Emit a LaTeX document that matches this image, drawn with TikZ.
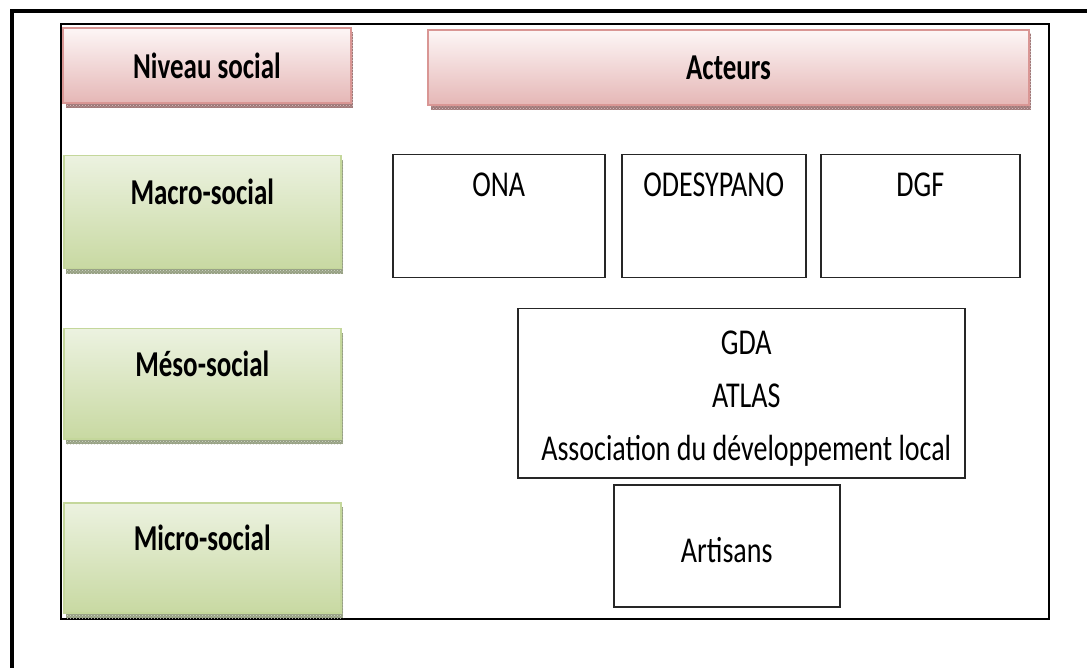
\documentclass[tikz,border=0pt]{standalone}
\usepackage{fontspec}
\setmainfont{Carlito}
\usepackage{tikz}
\usetikzlibrary{positioning, patterns}
\usepackage{xcolor}
\definecolor{pinkedge}{RGB}{217,150,148}
\definecolor{pinktop}{RGB}{253,246,246}
\definecolor{pinkbot}{RGB}{229,183,182}
\definecolor{pinkshadow}{RGB}{160,120,120}
\definecolor{greenedge}{RGB}{196,215,155}
\definecolor{greenlight}{RGB}{236,242,224}
\definecolor{greendark}{RGB}{200,217,162}
\definecolor{greenshadow}{RGB}{150,160,130}
\newcommand{\tallword}[1]{\scalebox{1}[1.35]{#1}}
\newcommand{\tallplain}[1]{\scalebox{1}[1.3]{#1}}

\begin{document}
\begin{tikzpicture}[
        x=1pt, y=-1pt,
        pinkhead/.style={shape=rectangle, draw=pinkedge, line width=2pt, top color=pinktop, bottom color=pinkbot, anchor=north west},
        greenhead/.style={shape=rectangle, draw=greenedge, line width=1.5pt, top color=greenlight, bottom color=greendark, anchor=north west},
        headtxt/.style={font=\fontsize{27}{32}\selectfont\bfseries},
        actbox/.style={shape=rectangle, draw=black!85, line width=1.5pt, anchor=north west},
        acttxt/.style={font=\fontsize{28}{53}\selectfont, align=center}
        ]
        \useasboundingbox (0,0) rectangle (1087,668);
        \clip (0,0) rectangle (1087,668);

        %% Frames
        \draw[line width=4pt] (12,11) rectangle (1120,700);
        \draw[line width=2pt] (61,24) rectangle (1049,619);

        %% Header row
        \fill[pinkshadow] (66,32) rectangle (353,108);
        \fill[pattern=crosshatch dots, pattern color=pinkshadow!40] (66,32) rectangle (353,108);
        \fill[pinkshadow] (431,34) rectangle (1031,110);
        \fill[pattern=crosshatch dots, pattern color=pinkshadow!40] (431,34) rectangle (1031,110);
        \node[pinkhead, minimum width=288pt, minimum height=75pt] (niveau) at (62,27) {};
        \node[headtxt] (niveau-t) at (niveau.center) {\tallword{Niveau social}};
        \node[pinkhead, minimum width=601pt, minimum height=75pt] (acteurs) at (427,29) {};
        \node[headtxt] (acteurs-t) at (acteurs.center) {\tallword{Acteurs}};

% Social levels
        \foreach \nm/\ya/\hh/\txt in {macro/155/113/Macro-social, meso/328/110/Méso-social, micro/502/110/Micro-social} {
            \fill[greenshadow] (66,\ya+5) rectangle (343,\ya+\hh+6);
            \fill[pattern=crosshatch dots, pattern color=greenshadow!40] (66,\ya+5) rectangle (343,\ya+\hh+6);
            \node[greenhead, minimum width=277pt, minimum height=\hh pt] (\nm) at (63,\ya) {};
            \node[headtxt] (\nm-t) at ([yshift=20pt]\nm.center) {\tallword{\txt}};
        }

        %% Actors
        \node[actbox, minimum width=212pt, minimum height=123pt] (ona) at (392,154) {};
        \node[actbox, minimum width=184pt, minimum height=123pt] (odesy) at (621,154) {};
        \node[actbox, minimum width=199pt, minimum height=123pt] (dgf) at (820,154) {};
        \node[actbox, minimum width=447pt, minimum height=169pt] (gda) at (517,308) {};
        \node[actbox, minimum width=226pt, minimum height=122pt] (artisans) at (613,484) {};

        \node[acttxt] (ona-t) at ([yshift=-31pt]ona.north) {\tallplain{ONA}};
        \node[acttxt] (odesy-t) at ([yshift=-31pt]odesy.north) {\tallplain{ODESYPANO}};
        \node[acttxt] (dgf-t) at ([yshift=-31pt]dgf.north) {\tallplain{DGF}};
        \node[acttxt] (gda-t) at ([xshift=5pt, yshift=-5pt]gda.center) {\tallplain{GDA}\\\tallplain{ATLAS}\\\tallplain{Association du développement local}};
        \node[acttxt] (artisans-t) at ([yshift=-4pt]artisans.center) {\tallplain{Artisans}};
\end{tikzpicture}
\end{document}
